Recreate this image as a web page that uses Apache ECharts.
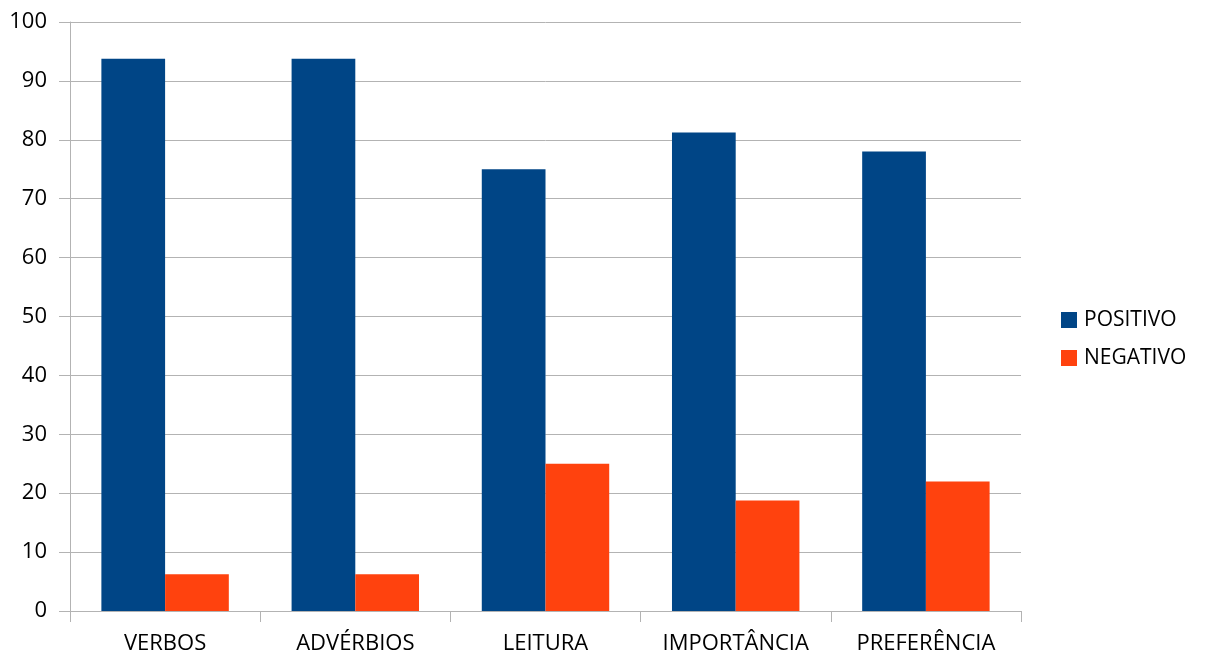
<!DOCTYPE html>
<html><head><meta charset="utf-8">
<script src="https://cdn.jsdelivr.net/npm/echarts@6/dist/echarts.min.js"></script>
<style>html,body{margin:0;padding:0;background:#fff}#c{width:1214px;height:655px}</style>
</head><body><div id="c"></div>
<script>
const categories = ['VERBOS', 'ADVÉRBIOS', 'LEITURA', 'IMPORTÂNCIA', 'PREFERÊNCIA'];
const positivo = [93.75, 93.75, 75, 81.25, 78];
const negativo = [6.25, 6.25, 25, 18.75, 22];
const yTicks = [0, 10, 20, 30, 40, 50, 60, 70, 80, 90, 100];
const font = 'Open Sans, Liberation Sans, sans-serif';
const chart = echarts.init(document.getElementById('c'), null, {renderer: 'canvas'});
chart.setOption({
  animation: false,
  backgroundColor: '#fff',
  grid: {left: 70, right: 193, top: 22, bottom: 44, containLabel: false, outerBoundsMode: 'none'},
  legend: {
    orient: 'vertical', left: 1056, top: 304, itemWidth: 16, itemHeight: 16, itemGap: 16,
    icon: 'rect',
    textStyle: {fontSize: 21, lineHeight: 22, color: '#000', fontFamily: font, padding: [0,0,0,2]},
    data: ['POSITIVO', 'NEGATIVO']
  },
  xAxis: {
    type: 'category', data: categories,
    axisLine: {lineStyle: {color: '#b3b3b3', width: 1}},
    axisTick: {show: true, interval: 0, length: 11, lineStyle: {color: '#b3b3b3'}},
    axisLabel: {interval: 0, hideOverlap: false, fontSize: 22, color: '#000', fontFamily: font, margin: 22}
  },
  yAxis: {
    type: 'value', min: yTicks[0], max: yTicks[yTicks.length-1], interval: 10,
    axisLine: {show: true, lineStyle: {color: '#b3b3b3', width: 1}},
    axisTick: {show: true, length: 11, lineStyle: {color: '#b3b3b3'}},
    splitLine: {lineStyle: {color: '#b3b3b3', width: 1}},
    axisLabel: {fontSize: 22, color: '#000', fontFamily: font, margin: 23}
  },
  series: [
    {name: 'POSITIVO', type: 'bar', data: positivo, itemStyle: {color: '#004586'}, barGap: '0%', barCategoryGap: '33%'},
    {name: 'NEGATIVO', type: 'bar', data: negativo, itemStyle: {color: '#ff420e'}, barGap: '0%', barCategoryGap: '33%'}
  ]
});
</script></body></html>
